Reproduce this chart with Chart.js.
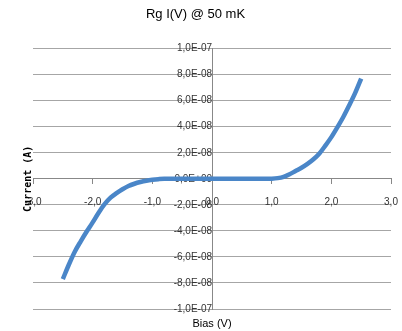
<!DOCTYPE html>
<html>
<head>
<meta charset="utf-8">
<script src="https://cdn.jsdelivr.net/npm/chart.js@4.4.1/dist/chart.umd.min.js"></script>
<style>
  body { margin: 0; background: #fff; }
  #wrap { width: 402px; height: 331px; position: relative; }
</style>
</head>
<body>
<div id="wrap"><canvas id="chartIV"></canvas></div>
<script>
// Bias (V) and measured current (A)
const bias = [-2.5, -2.4, -2.3, -2.2, -2.1, -2.0, -1.9, -1.8, -1.7, -1.6, -1.5, -1.4, -1.3, -1.2, -1.1, -1.0,
  -0.9, -0.8, -0.6, -0.4, -0.2, 0.0, 0.2, 0.4, 0.6, 0.8, 0.9,
  1.0, 1.1, 1.2, 1.3, 1.4, 1.5, 1.6, 1.7, 1.8, 1.9, 2.0, 2.1, 2.2, 2.3, 2.4, 2.5];
const current = [-7.7e-8, -6.6e-8, -5.6e-8, -4.8e-8, -4.05e-8, -3.35e-8, -2.6e-8, -1.95e-8, -1.45e-8, -1.1e-8, -0.8e-8, -0.55e-8, -0.38e-8, -0.25e-8, -0.15e-8, -0.08e-8,
  -0.03e-8, 0, 0, 0, 0, 0, 0, 0, 0, 0, 0,
  0.01e-8, 0.05e-8, 0.15e-8, 0.35e-8, 0.6e-8, 0.85e-8, 1.15e-8, 1.5e-8, 1.95e-8, 2.55e-8, 3.2e-8, 3.95e-8, 4.75e-8, 5.65e-8, 6.6e-8, 7.7e-8];

const xTickValues = [-3, -2, -1, 0, 1, 2, 3];
const xTickLabels = ['-3,0', '-2,0', '-1,0', '0,0', '1,0', '2,0', '3,0'];
const yTickValues = [-1e-7, -8e-8, -6e-8, -4e-8, -2e-8, 0, 2e-8, 4e-8, 6e-8, 8e-8, 1e-7];
const yTickLabels = ['-1,0E-07', '-8,0E-08', '-6,0E-08', '-4,0E-08', '-2,0E-08', '0,0E+00',
  '2,0E-08', '4,0E-08', '6,0E-08', '8,0E-08', '1,0E-07'];

const narrow = "'Liberation Sans Narrow', 'Liberation Sans', sans-serif";
const tickFont = { family: narrow, size: 10 };

const points = bias.map((b, i) => ({ x: b, y: current[i] }));

// axes labels should not reserve room at the chart edges
const noEdgePadding = s => { s.paddingLeft = 0; s.paddingRight = 0; s.paddingTop = 0; s.paddingBottom = 0; };

const ctx = document.getElementById('chartIV').getContext('2d');
new Chart(ctx, {
  type: 'line',
  data: {
    datasets: [{
      data: points,
      xAxisID: 'x',
      yAxisID: 'y',
      borderColor: '#4a86c8',
      borderWidth: 4.5,
      pointRadius: 0,
      tension: 0.4,
      cubicInterpolationMode: 'monotone',
      fill: false
    }]
  },
  options: {
    responsive: true,
    maintainAspectRatio: false,
    animation: false,
    layout: { padding: { left: 0, right: 11, top: 0, bottom: 0 } },
    plugins: {
      legend: { display: false },
      tooltip: { enabled: false },
      title: {
        display: true,
        text: 'Rg I(V) @ 50 mK',
        color: '#000',
        font: { family: narrow, size: 13, weight: 'normal' },
        padding: { top: 7, bottom: 26 }
      }
    },
    scales: {
      x: {
        type: 'linear',
        position: { y: 0 },
        min: -3,
        max: 3,
        afterBuildTicks: s => { s.ticks = xTickValues.map(v => ({ value: v })); },
        afterFit: noEdgePadding,
        ticks: {
          autoSkip: false,
          maxRotation: 0,
          padding: 12,
          color: '#333',
          font: tickFont,
          callback: (v, i) => xTickLabels[i]
        },
        grid: { drawOnChartArea: false, drawTicks: true, tickLength: 5, color: '#888' },
        border: { color: '#888' }
      },
      y: {
        type: 'linear',
        position: { x: 0 },
        min: -1e-7,
        max: 1e-7,
        afterBuildTicks: s => { s.ticks = yTickValues.map(v => ({ value: v })); },
        afterFit: noEdgePadding,
        ticks: { display: false },
        grid: { color: '#a6a6a6', drawTicks: false },
        border: { color: '#888' }
      },
      // tick labels of the current axis, drawn on top of the curve
      yLabels: {
        type: 'linear',
        position: { x: 0 },
        min: -1e-7,
        max: 1e-7,
        z: 1,
        afterBuildTicks: s => { s.ticks = yTickValues.map(v => ({ value: v })); },
        afterFit: noEdgePadding,
        ticks: {
          autoSkip: false,
          padding: 4,
          color: '#333',
          font: tickFont,
          callback: (v, i) => yTickLabels[i]
        },
        grid: { display: false },
        border: { display: false }
      },
      xTitle: {
        type: 'linear',
        position: 'bottom',
        ticks: { display: false },
        grid: { display: false },
        border: { display: false },
        title: {
          display: true,
          text: 'Bias (V)',
          color: '#000',
          font: { family: narrow, size: 11 },
          padding: { top: 4, bottom: 0 }
        },
        afterFit: s => { s.height = 22; }
      },
      yTitle: {
        type: 'linear',
        position: 'left',
        ticks: { display: false },
        grid: { display: false },
        border: { display: false },
        title: {
          display: true,
          text: 'Current (A)',
          color: '#000',
          font: { family: "'DejaVu Sans Mono', monospace", size: 10, weight: 'bold' },
          padding: { top: 22, bottom: 0 }
        },
        afterFit: s => { s.width = 33; }
      }
    }
  }
});
</script>
</body>
</html>
